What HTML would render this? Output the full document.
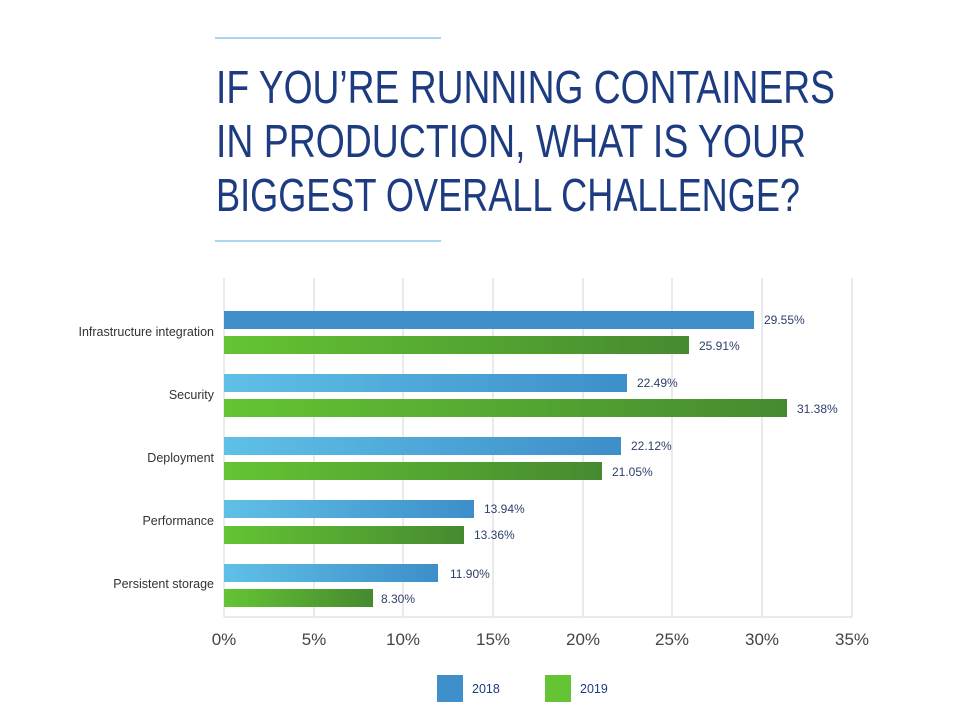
<!DOCTYPE html>
<html><head><meta charset="utf-8"><style>
html,body{margin:0;padding:0;background:#fff;}
svg{display:block;font-family:"Liberation Sans",sans-serif;}
</style></head><body>
<svg width="958" height="717" viewBox="0 0 958 717" xmlns="http://www.w3.org/2000/svg">
<defs>
<linearGradient id="b" x1="0" x2="1" y1="0" y2="0"><stop offset="0" stop-color="#5fc0e6"/><stop offset="1" stop-color="#3d8ec9"/></linearGradient>
<linearGradient id="g" x1="0" x2="1" y1="0" y2="0"><stop offset="0" stop-color="#64c433"/><stop offset="1" stop-color="#468a30"/></linearGradient>
</defs>
<line x1="215" y1="38" x2="441" y2="38" stroke="#8fc8ea" stroke-width="1.5"/>
<line x1="215" y1="241" x2="441" y2="241" stroke="#8fc8ea" stroke-width="1.5"/>
<g fill="#1d3b80" font-size="46">
<text x="216" y="103" textLength="619" lengthAdjust="spacingAndGlyphs">IF YOU’RE RUNNING CONTAINERS</text>
<text x="216" y="157" textLength="590" lengthAdjust="spacingAndGlyphs">IN PRODUCTION, WHAT IS YOUR</text>
<text x="216" y="211" textLength="584" lengthAdjust="spacingAndGlyphs">BIGGEST OVERALL CHALLENGE?</text>
</g>
<g stroke="#e3e3e3" stroke-width="1.5">
<line x1="224" y1="278" x2="224" y2="617"/><line x1="314" y1="278" x2="314" y2="617"/><line x1="403" y1="278" x2="403" y2="617"/><line x1="493" y1="278" x2="493" y2="617"/><line x1="583" y1="278" x2="583" y2="617"/><line x1="672" y1="278" x2="672" y2="617"/><line x1="762" y1="278" x2="762" y2="617"/><line x1="852" y1="278" x2="852" y2="617"/>
<line x1="224" y1="617" x2="852" y2="617"/>
</g>
<g font-size="17" fill="#444" text-anchor="middle">
<text x="224" y="645">0%</text><text x="314" y="645">5%</text><text x="403" y="645">10%</text><text x="493" y="645">15%</text><text x="583" y="645">20%</text><text x="672" y="645">25%</text><text x="762" y="645">30%</text><text x="852" y="645">35%</text>
</g>
<g font-size="12.5" fill="#333" text-anchor="end">
<text x="214" y="336">Infrastructure integration</text>
<text x="214" y="399">Security</text>
<text x="214" y="462">Deployment</text>
<text x="214" y="525">Performance</text>
<text x="214" y="588">Persistent storage</text>
</g>
<g>
<rect x="224" y="311" width="530" height="18" fill="#3f8fca"/>
<rect x="224" y="336" width="465" height="18" fill="url(#g)"/>
<rect x="224" y="374" width="403" height="18" fill="url(#b)"/>
<rect x="224" y="399" width="563" height="18" fill="url(#g)"/>
<rect x="224" y="437" width="397" height="18" fill="url(#b)"/>
<rect x="224" y="462" width="378" height="18" fill="url(#g)"/>
<rect x="224" y="500" width="250" height="18" fill="url(#b)"/>
<rect x="224" y="526" width="240" height="18" fill="url(#g)"/>
<rect x="224" y="564" width="214" height="18" fill="url(#b)"/>
<rect x="224" y="589" width="149" height="18" fill="url(#g)"/>
</g>
<g font-size="12" fill="#2c3e6b">
<text x="764" y="324">29.55%</text>
<text x="699" y="350">25.91%</text>
<text x="637" y="387">22.49%</text>
<text x="797" y="413">31.38%</text>
<text x="631" y="450">22.12%</text>
<text x="612" y="476">21.05%</text>
<text x="484" y="513">13.94%</text>
<text x="474" y="539">13.36%</text>
<text x="450" y="578">11.90%</text>
<text x="381" y="603">8.30%</text>
</g>
<rect x="437" y="675" width="26" height="27" fill="#3f8fca"/>
<rect x="545" y="675" width="26" height="27" fill="#64c433"/>
<g font-size="12.5" fill="#1d3b80">
<text x="472" y="693">2018</text>
<text x="580" y="693">2019</text>
</g>
</svg>
</body></html>
